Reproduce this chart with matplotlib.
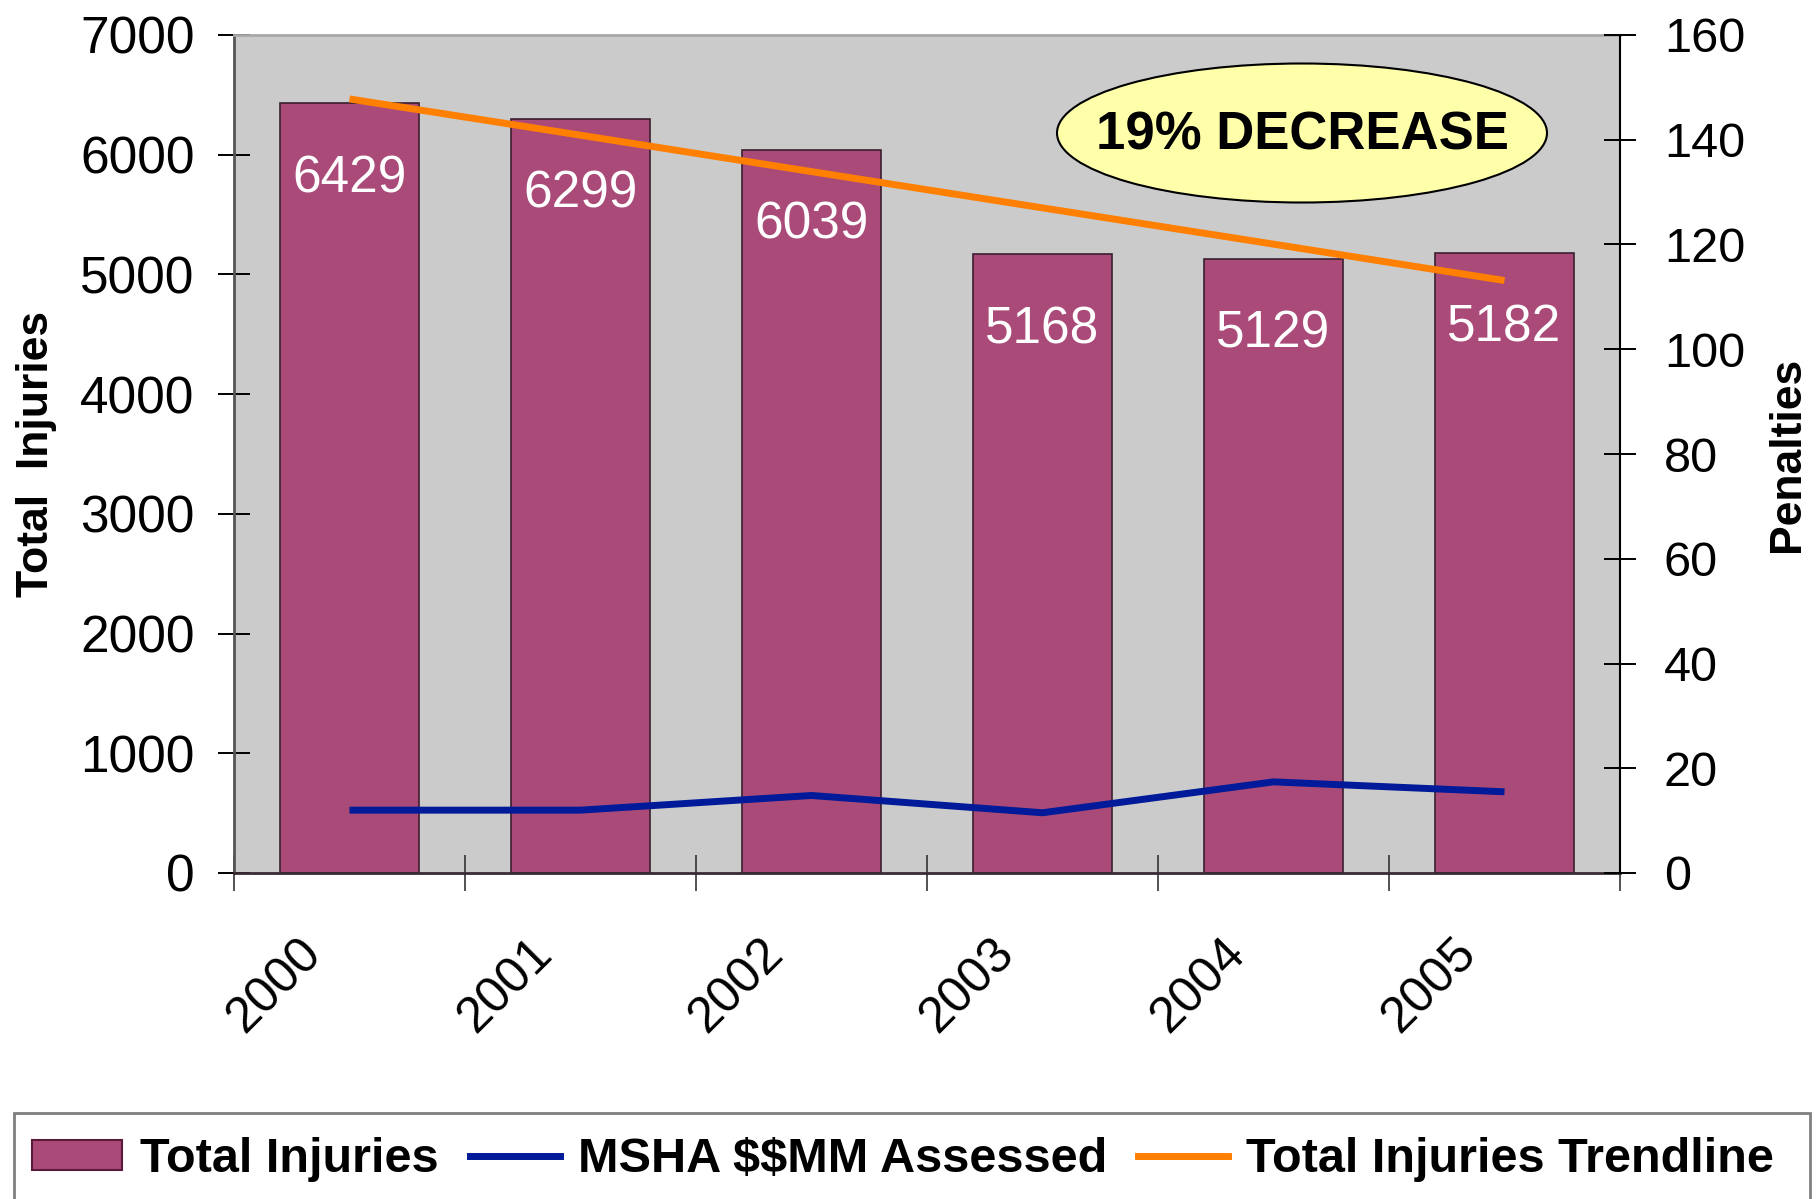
import matplotlib
matplotlib.use("Agg")
import matplotlib.pyplot as plt
from matplotlib.patches import Ellipse, Rectangle, Patch
from matplotlib.lines import Line2D
from matplotlib.transforms import ScaledTranslation

plt.rcParams['font.family'] = ['Liberation Sans', 'DejaVu Sans']

# data
years = ['2000', '2001', '2002', '2003', '2004', '2005']
total_injuries = [6429, 6299, 6039, 5168, 5129, 5182]
msha_assessed = [12.0, 12.0, 14.8, 11.5, 17.4, 15.5]
injury_trend = [6466, 6163, 5859, 5556, 5253, 4949]

bar_color = '#AA4A78'
blue = '#001A99'
orange = '#FF7F00'

fig = plt.figure(figsize=(18.2, 11.99), dpi=100)
ax = fig.add_axes([234/1820, 1 - 873/1199, 1386/1820, 838/1199])
ax2 = ax.twinx()

x = list(range(len(years)))
ax.set_facecolor('#CBCBCB')
ax.bar(x, total_injuries, width=0.6, color=bar_color, edgecolor='#3a2030', linewidth=1.2, zorder=2)
ax.plot(x, injury_trend, color=orange, lw=5, solid_capstyle='butt', zorder=3)
for xi, v in zip(x, total_injuries):
    ax.text(xi, v - 630, str(v), color='white', fontsize=37, ha='center', va='center', zorder=4)

ax2.plot(x, msha_assessed, color=blue, lw=5, solid_capstyle='butt', solid_joinstyle='miter')

ax.set_xlim(-0.5, 5.5)
ax.set_ylim(0, 7000)
ax.set_yticks(range(0, 7001, 1000))
ax2.set_ylim(0, 160)
ax2.set_yticks(range(0, 161, 20))

ax.set_xticks(x)
ax.set_xticklabels(years, rotation=45, ha='right', va='top')
ax.set_xticks([i - 0.5 for i in range(len(years) + 1)], minor=True)
ax.tick_params(axis='x', which='major', length=0, pad=41, labelsize=36)
ax.tick_params(axis='x', which='minor', direction='inout', length=26, width=1.2, color='#333333')
ax.tick_params(axis='y', direction='inout', length=23, width=1.4, pad=17, labelsize=37)
ax2.tick_params(axis='y', direction='inout', length=23, width=1.4, pad=20, labelsize=35)
for lbl in ax.get_xticklabels():
    lbl.set_transform(lbl.get_transform() + ScaledTranslation(-0.19, 0, fig.dpi_scale_trans))

ax.set_ylabel('Total  Injuries', fontsize=32, fontweight='bold')
ax.yaxis.set_label_coords(-0.1277, 0.5)
ax2.set_ylabel('Penalties', fontsize=32, fontweight='bold', rotation=90)
ax2.yaxis.set_label_coords(1.106, 0.5)

ax.spines['top'].set_color('#A8A8A8')
ax.spines['top'].set_linewidth(2)
ax.spines['left'].set_color('#555555')
ax.spines['left'].set_linewidth(2)
ax.spines['bottom'].set_color('#3a2a33')
ax.spines['bottom'].set_linewidth(2)
ax.spines['right'].set_visible(False)
for s in ['top', 'left', 'bottom']:
    ax2.spines[s].set_visible(False)
ax2.spines['right'].set_color('black')
ax2.spines['right'].set_linewidth(1.5)

# callout
fig.add_artist(Ellipse((1302/1820, 1 - 133/1199), 490/1820, 139/1199,
                       facecolor='#FFFFAA', edgecolor='black', lw=1.5,
                       transform=fig.transFigure))
fig.text(1302/1820, 1 - 149/1199, '19% DECREASE', fontsize=38, fontweight='bold',
         ha='center', va='baseline', zorder=5)

# legend box
fig.add_artist(Rectangle((14/1820, -0.01), 1796/1820, 1 - 1113/1199 + 0.01,
                         facecolor='white', edgecolor='#808080', lw=2,
                         transform=fig.transFigure))
handles = [Patch(facecolor=bar_color, edgecolor='#5a1a3a', lw=1.5),
           Line2D([], [], color=blue, lw=5),
           Line2D([], [], color=orange, lw=5)]
labels = ['Total Injuries', r'MSHA \$\$MM Assessed', 'Total Injuries Trendline']
leg = fig.legend(handles, labels, loc='center left', bbox_to_anchor=(32/1820, 1 - 1160/1199),
                 ncol=3, frameon=False, borderaxespad=0, borderpad=0,
                 handlelength=1.85, handleheight=0.58, handletextpad=0.37, columnspacing=0.64,
                 prop={'size': 35, 'weight': 'bold'})
leg.set_zorder(5)

fig.savefig('out.png', dpi=100)
